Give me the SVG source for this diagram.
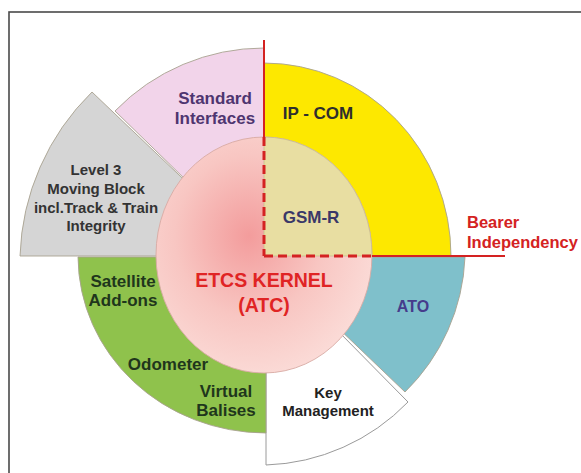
<svg xmlns="http://www.w3.org/2000/svg" width="581" height="473" viewBox="0 0 581 473">
<defs>
<radialGradient id="kg" cx="0.43" cy="0.42" r="0.62">
<stop offset="0" stop-color="#f39c9c"/>
<stop offset="0.55" stop-color="#f8c6c2"/>
<stop offset="1" stop-color="#fbdcd8"/>
</radialGradient>
<style>
.sec{stroke:#a8a290;stroke-width:0.9}
.t{font-family:"Liberation Sans",Arial,sans-serif;font-weight:bold;text-anchor:middle}
.red{stroke:#d42222;fill:none}
</style>
</defs>
<rect width="581" height="473" fill="#ffffff"/>
<rect x="9" y="12" width="600" height="500" fill="none" stroke="#4a4a4a" stroke-width="1.6"/>

<g id="standard-interfaces">
<path class="sec" d="M264,256 L264,48 A208,208 0 0 0 115,111 Z" fill="#f2d4ea"/>
<text class="t" x="215" y="104" font-size="17" fill="#4e3570">Standard</text>
<text class="t" x="215" y="124" font-size="17" fill="#4e3570">Interfaces</text>
</g>
<g id="level3">
<path class="sec" d="M264,256 L92,92 A240,240 0 0 0 20,256 Z" fill="#d5d5d5"/>
<text class="t" x="96" y="175" font-size="15" fill="#333333">Level 3</text>
<text class="t" x="96" y="194" font-size="15" fill="#333333">Moving Block</text>
<text class="t" x="96" y="213" font-size="15" fill="#333333">incl.Track &amp; Train</text>
<text class="t" x="96" y="231" font-size="15" fill="#333333">Integrity</text>
</g>
<g id="ip-com">
<path class="sec" d="M264,256 L264,63 A187,193 0 0 1 451,256 Z" fill="#fde800"/>
<text class="t" x="318" y="119" font-size="17" fill="#2e2e2e">IP - COM</text>
</g>
<g id="ato">
<path class="sec" d="M264,257 L465,257 A200,200 0 0 1 405,392 Z" fill="#7fc0cb"/>
<text class="t" x="413" y="312" font-size="16" fill="#463c8c">ATO</text>
</g>
<g id="key-management">
<path d="M264,256 L408,402 A207,207 0 0 1 266,465 L266,256 Z" fill="#ffffff" stroke="#9a9a9a" stroke-width="1"/>
<text class="t" x="328" y="398" font-size="15" fill="#222222">Key</text>
<text class="t" x="328" y="416" font-size="15" fill="#222222">Management</text>
</g>
<g id="green-addons">
<path class="sec" d="M266,257 L78,257 A188,177 0 0 0 266,433 Z" fill="#8fc24c"/>
<text class="t" x="123" y="287" font-size="17" fill="#1f361c">Satellite</text>
<text class="t" x="123" y="306" font-size="17" fill="#1f361c">Add-ons</text>
<text class="t" x="168" y="370" font-size="17" fill="#1f361c">Odometer</text>
<text class="t" x="226" y="397" font-size="17" fill="#1f361c">Virtual</text>
<text class="t" x="226" y="416" font-size="17" fill="#1f361c">Balises</text>
</g>
<g id="etcs-kernel">
<ellipse cx="264" cy="255" rx="108" ry="118" fill="url(#kg)" stroke="#d8aaa4" stroke-width="0.9"/>
<text class="t" x="264" y="287" font-size="19.5" fill="#e02424">ETCS KERNEL</text>
<text class="t" x="264" y="312" font-size="19.5" fill="#e02424">(ATC)</text>
</g>
<g id="gsm-r">
<path d="M264,256 L264,137 A108,118 0 0 1 372,256 Z" fill="#e8dea2" stroke="#c8bc90" stroke-width="0.8"/>
<text class="t" x="311" y="223" font-size="17" fill="#3a3868">GSM-R</text>
</g>
<g id="connectors">
<line class="red" x1="264" y1="40" x2="264" y2="137" stroke-width="2"/>
<line class="red" x1="264" y1="137" x2="264" y2="256" stroke-width="3" stroke-dasharray="9 5"/>
<line class="red" x1="264" y1="256" x2="372" y2="256" stroke-width="3" stroke-dasharray="9 5"/>
<line class="red" x1="372" y1="256" x2="505" y2="256" stroke-width="2"/>
</g>
<g id="bearer-independency">
<text x="467" y="228" font-family="Liberation Sans,Arial,sans-serif" font-weight="bold" font-size="16.5" fill="#d42222">Bearer</text>
<text x="467" y="248" font-family="Liberation Sans,Arial,sans-serif" font-weight="bold" font-size="16.5" fill="#d42222">Independency</text>
</g>
</svg>
